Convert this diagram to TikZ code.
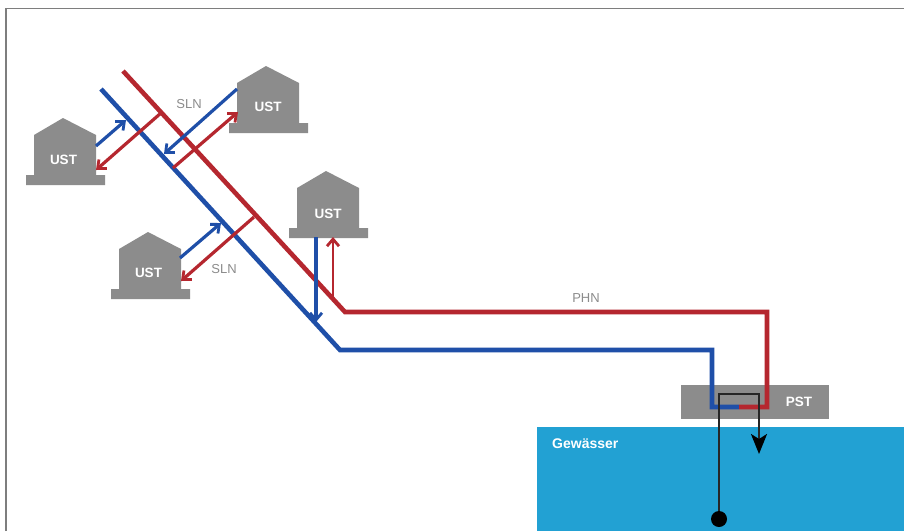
\documentclass[tikz,border=0pt]{standalone}
\usepackage{fontspec}
\setmainfont{Liberation Sans}
\usetikzlibrary{arrows.meta,calc}
\definecolor{rd}{HTML}{B5272F}
\definecolor{bl}{HTML}{1F4FA8}
\definecolor{gy}{HTML}{8C8C8C}
\definecolor{wt}{HTML}{22A1D3}
\tikzset{
  main/.style={line width=4.6pt,line join=miter},
  sub/.style={line width=3.2pt,line cap=butt},
  tip/.style={-{Straight Barb[length=7pt,width=12pt,line width=2.8pt]}},
  wlabel/.style={text=white,font=\fontsize{13.5}{13.5}\selectfont\bfseries,inner sep=0pt},
  glabel/.style={text=gy,font=\fontsize{13}{13}\selectfont,inner sep=0pt},
  housefill/.style={fill=gy,draw=none}
}
\newcommand{\ushouse}[5]{%
  \fill[housefill,shift={(#1,#2)}] (26,175) -- (34,175) -- (34,135) -- (63,118) -- (96,135) -- (96,175) -- (105,175) -- (105,185) -- (26,185) -- cycle;
  \node[wlabel] (#3) at ($(#1,#2)+(#4,#5)$) {UST};}
\begin{document}
\begin{tikzpicture}[x=1pt,y=-1pt]
\useasboundingbox (0,0) rectangle (904,531);
\fill[white] (0,0) rectangle (904,531);
\draw[gy!90!black,line width=1.4pt] (6,531) -- (6,8.5) -- (904,8.5);
% water and station
\fill[wt] (537,427) rectangle (904,531);
\fill[gy] (681,385) rectangle (829,419);
\node[wlabel,anchor=west,font=\fontsize{14}{14}\selectfont\bfseries] (gew) at (552,444) {Gewässer};
\node[wlabel] (pst) at (799,401.5) {PST};
% houses
\ushouse{0}{0}{h1}{63.5}{159.5}
\ushouse{203}{-52}{h2}{65}{159}
\ushouse{263}{53}{h3}{65}{161}
\ushouse{85}{114}{h4}{63.5}{158.5}
% coordinates
\coordinate (rs) at (123,71);
\coordinate (rb) at (345,312);
\coordinate (rc) at (767,312);
\coordinate (rd1) at (767,407);
\coordinate (mid) at (739,407);
\coordinate (bs) at (101,89);
\coordinate (bb) at (340,350);
\coordinate (bc) at (712,350);
\coordinate (bd) at (712,407);
% main lines
\draw[main,bl] (bs) -- (bb) -- (bc) -- (bd) -- (mid);
\draw[main,rd] (rs) -- (rb) -- (rc) -- (rd1) -- (mid);
% branches
\coordinate (a1) at (161,113); \coordinate (a2) at (96,170);
\coordinate (a3) at (96,146); \coordinate (a4) at (126,120);
\coordinate (a5) at (237,89); \coordinate (a6) at (164,154);
\coordinate (a7) at (173,168); \coordinate (a8) at (238,112);
\coordinate (a9) at (180,258); \coordinate (a10) at (221,223);
\coordinate (a11) at (254,217); \coordinate (a12) at (181,281);
\coordinate (a13) at (316,237); \coordinate (a14) at (316,322);
\coordinate (a15) at (333,298); \coordinate (a16) at (333,237);
\draw[sub,rd,tip] (a1) -- (a2);
\draw[sub,bl,tip] (a3) -- (a4);
\draw[sub,bl,tip] (a5) -- (a6);
\draw[sub,rd,tip] (a7) -- (a8);
\draw[sub,bl,tip] (a9) -- (a10);
\draw[sub,rd,tip] (a11) -- (a12);
\draw[sub,bl,tip] (a13) -- (a14);
\draw[sub,rd,tip,line width=2.4pt] (a15) -- (a16);
% labels
\node[glabel] (s1) at (189,104) {SLN};
\node[glabel] (s2) at (224,269) {SLN};
\node[glabel] (phn) at (586,298) {PHN};
% black line
\coordinate (k1) at (719,519);
\coordinate (k2) at (719,394);
\coordinate (k3) at (759,394);
\coordinate (k4) at (759,454);
\draw[line width=2.6pt,black!85,-{Stealth[length=20pt,width=16pt,inset=5pt,black]}] (k1) -- (k2) -- (k3) -- (k4);
\fill[black] (k1) circle (8pt);
\end{tikzpicture}
\end{document}
